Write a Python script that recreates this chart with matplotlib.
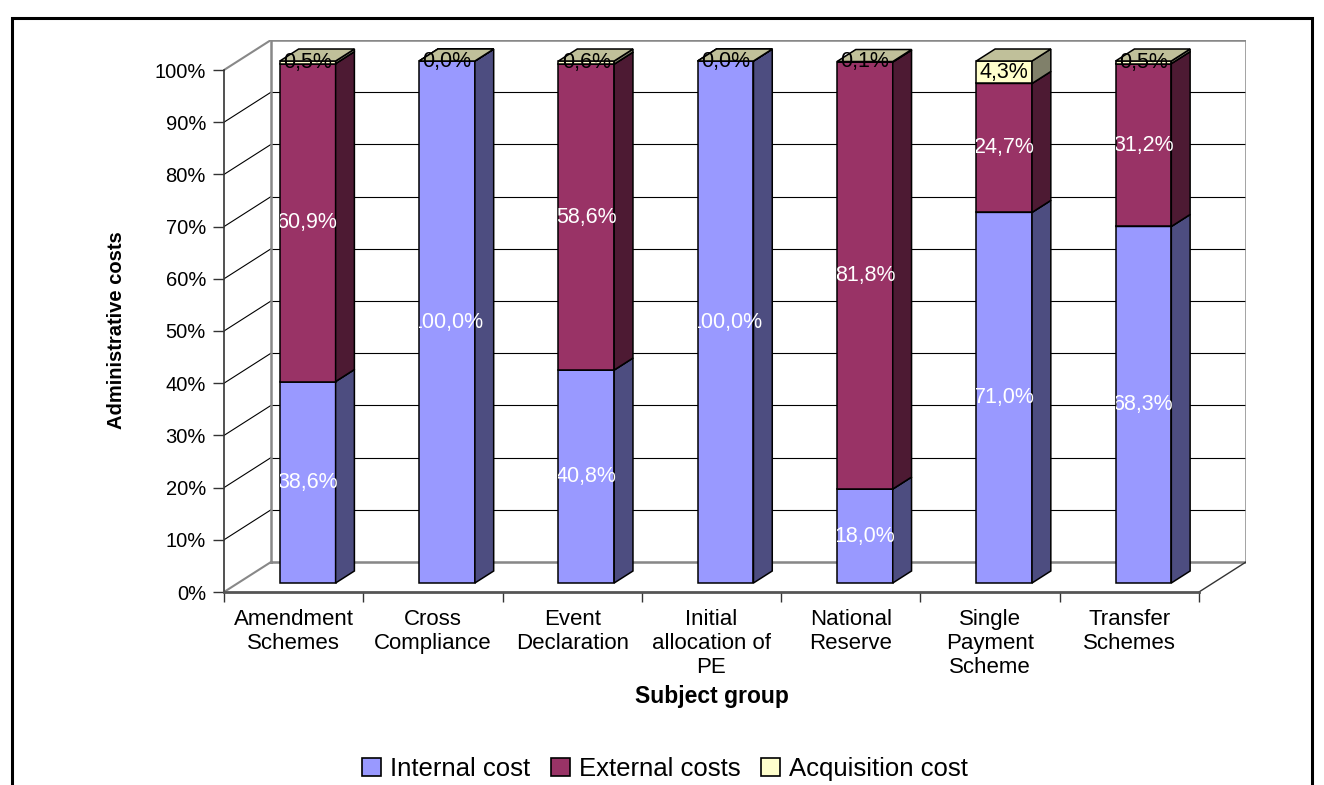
import matplotlib
matplotlib.use("Agg")
import matplotlib.pyplot as plt
import numpy as np
from matplotlib.patches import Polygon, Rectangle, Patch
from matplotlib.ticker import PercentFormatter
from matplotlib.transforms import Bbox, TransformedBbox

plt.rcParams['font.family'] = ['Liberation Sans', 'DejaVu Sans']

# data (percent of administrative costs)
categories = ["Amendment\nSchemes", "Cross\nCompliance", "Event\nDeclaration",
              "Initial\nallocation of\nPE", "National\nReserve",
              "Single\nPayment\nScheme", "Transfer\nSchemes"]
internal = [38.6, 100.0, 40.8, 100.0, 18.0, 71.0, 68.3]
external = [60.9, 0.0, 58.6, 0.0, 81.8, 24.7, 31.2]
acquisition = [0.5, 0.0, 0.6, 0.0, 0.1, 4.3, 0.5]
series_names = ["Internal cost", "External costs", "Acquisition cost"]
yticks = list(range(0, 101, 10))

# colours per series: front face, side face, top face, label
front_col = ["#9999FF", "#993366", "#FFFFCC"]
side_col = ["#4D4D80", "#4D1A33", "#80806A"]
top_col = ["#7A7ACC", "#7A2952", "#C0C09A"]
label_col = ["white", "white", "black"]

W, H = 1324, 785
fig = plt.figure(figsize=(W / 100, H / 100), dpi=100)

# layout of the fake 3d box, in pixels
x0_px, x1_px = 224, 1199
y0_px, y100_px = 592, 70
depth_px = (47, 30)
n = len(categories)
px_cat = (x1_px - x0_px) / n
px_pct = (y0_px - y100_px) / 100
DX = depth_px[0] / px_cat
DY = depth_px[1] / px_pct
xmax = n - 0.5 + DX
ymax = 100 + DY

ax = fig.add_axes([x0_px / W, (H - y0_px) / H,
                   (xmax + 0.5) * px_cat / W, ymax * px_pct / H])
ax.set_xlim(-0.5, xmax)
ax.set_ylim(0, ymax)
ax.patch.set_visible(False)
ax.spines['top'].set_visible(False)
ax.spines['right'].set_visible(False)
ax.spines['left'].set_bounds(0, 100)
ax.spines['left'].set_color("#333333")
ax.spines['left'].set_linewidth(1.2)
ax.spines['bottom'].set_bounds(-0.5, n - 0.5)
ax.spines['bottom'].set_color("#555555")
ax.spines['bottom'].set_linewidth(2)

ax.set_yticks(yticks)
ax.yaxis.set_major_formatter(PercentFormatter(decimals=0))
ax.tick_params(axis='y', length=8, width=1, color="#333333", pad=5, labelsize=14.5)
ax.set_xticks(np.arange(n + 1) - 0.5)
ax.set_xticklabels([])
ax.tick_params(axis='x', which='major', length=7, width=1, color="#333333")
ax.set_xticks(np.arange(n), labels=categories, minor=True)
ax.tick_params(axis='x', which='minor', length=0, pad=12, labelsize=16)

# walls and gridlines
xl_wall = -0.5 + DX
xr_wall = n - 0.5 + DX
for v in yticks:
    ax.plot([xl_wall, xr_wall], [v + DY, v + DY], color="black", lw=0.8, zorder=1)
    if 0 < v < 100:
        ax.plot([-0.5, xl_wall], [v, v + DY], color="black", lw=0.8, zorder=1)
ax.plot([xl_wall, xr_wall, xr_wall, xl_wall, xl_wall],
        [DY, DY, 100 + DY, 100 + DY, DY], color="#888888", lw=1.8, zorder=1)
ax.plot([-0.5, xl_wall], [100, 100 + DY], color="#888888", lw=1.5, zorder=1)
ax.plot([-0.5, xl_wall], [0, DY], color="#888888", lw=1.5, zorder=1)
ax.plot([n - 0.5, xr_wall], [0, DY], color="#333333", lw=1, zorder=1)

# bars
z_front, z_back = 0.3, 0.7
half = 0.2
ddx = (z_back - z_front) * DX
ddy = (z_back - z_front) * DY
labels_to_draw = []
for i in range(n):
    segs = [internal[i], external[i], acquisition[i]]
    bottom = 0.0
    xl = i - half + z_front * DX
    xr = i + half + z_front * DX
    for s, h in enumerate(segs):
        top = bottom + h
        yb = bottom + z_front * DY
        yt = top + z_front * DY
        front = Polygon([(xl, yb), (xr, yb), (xr, yt), (xl, yt)], closed=True,
                        fc=front_col[s], ec="black", lw=1.1, zorder=3)
        side = Polygon([(xr, yb), (xr + ddx, yb + ddy), (xr + ddx, yt + ddy), (xr, yt)],
                       closed=True, fc=side_col[s], ec="black", lw=1.1, zorder=3)
        topf = Polygon([(xl, yt), (xr, yt), (xr + ddx, yt + ddy), (xl + ddx, yt + ddy)],
                       closed=True, fc=top_col[s], ec="black", lw=1.1, zorder=3)
        ax.add_patch(front)
        ax.add_patch(side)
        ax.add_patch(topf)
        # an empty middle segment sits under the top label, so it is not shown
        if h > 0 or s == len(segs) - 1:
            labels_to_draw.append((s, h, (yb + yt) / 2, xl, xr))
        bottom = top

# value labels, cut off at the left edge of the bar like in the original
for s, h, ymid, xl, xr in labels_to_draw:
    t = ax.text((xl + xr) / 2, ymid, f"{h:.1f}%".replace(".", ","),
                ha="center", va="center", fontsize=15.5, color=label_col[s],
                zorder=5, clip_on=True)
    t.set_clip_box(TransformedBbox(Bbox([[xl, -50], [xl + 5, 300]]), ax.transData))

# axis titles
fig.text(116 / W, 1 - 330 / H, "Administrative costs", rotation=90,
         ha="center", va="center", fontsize=14.5, fontweight="bold")
fig.text(712 / W, 1 - 696 / H, "Subject group", ha="center", va="center",
         fontsize=16.5, fontweight="bold")

# legend
handles = [Patch(facecolor=front_col[k], edgecolor="black", lw=1.2) for k in range(3)]
fig.legend(handles, series_names, loc="center", bbox_to_anchor=(665 / W, 1 - 769 / H),
           ncol=3, frameon=False, fontsize=18.5, handlelength=0.75, handleheight=0.75,
           handletextpad=0.35, columnspacing=0.8, borderpad=0, borderaxespad=0)

# outer frame
fig.add_artist(Rectangle((12 / W, -0.05), 1300 / W, 1 - 18 / H + 0.05,
                         transform=fig.transFigure, fill=False, ec="black", lw=2.2))

fig.savefig("out.png", dpi=100)
